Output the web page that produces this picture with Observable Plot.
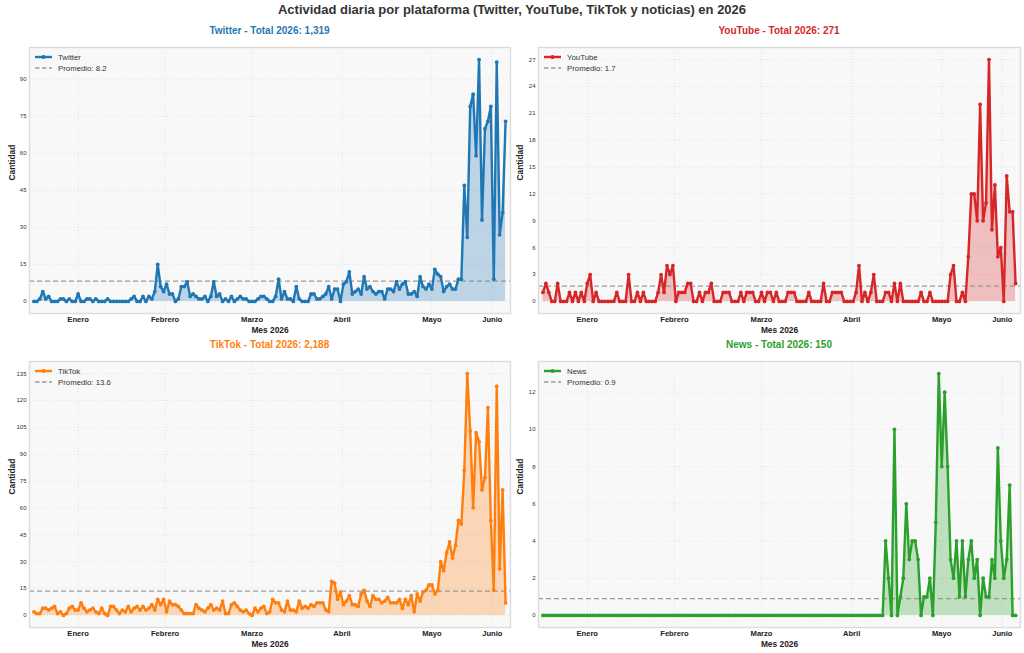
<!DOCTYPE html>
<html>
<head>
<meta charset="utf-8">
<script src="https://cdn.jsdelivr.net/npm/d3@7"></script>
<script src="https://cdn.jsdelivr.net/npm/@observablehq/plot@0.6"></script>
<style>
  html, body { margin: 0; padding: 0; background: #fff; }
  #fig { position: relative; width: 1024px; height: 653px; overflow: hidden; background: #fff;
         font-family: "Liberation Sans", Arial, sans-serif; color: #333; }
  .abs { position: absolute; }
  .maintitle { left: 0; top: 2px; width: 1024px; text-align: center; font-size: 13px; line-height: 16px; font-weight: bold; color: #333; }
  .subtitle { text-align: center; font-size: 10px; line-height: 12px; font-weight: bold; }
</style>
</head>
<body>
<div id="fig">
  <div class="abs maintitle">Actividad diaria por plataforma (Twitter, YouTube, TikTok y noticias) en 2026</div>
</div>
<script>
// ---------------- DATA ----------------
const startDate = "2026-01-01";
const endDate = "2026-06-10";
const monthLabels = ["Enero", "Febrero", "Marzo", "Abril", "Mayo", "Junio"];

const twitter = [
  // Enero
  0,0,1,4,1,2,0,0,0,1,1,0,1,0,0,3,0,0,1,1,0,1,0,0,0,1,0,0,0,0,0,
  // Febrero
  0,0,1,2,0,0,2,0,2,1,4,15,6,4,7,3,3,0,1,6,6,8,2,3,2,1,1,2,
  // Marzo
  0,2,8,2,3,0,1,0,2,0,1,2,1,1,0,0,0,1,2,2,1,0,0,2,9,1,4,1,1,0,6,
  // Abril
  1,0,0,0,3,3,1,1,2,3,6,1,5,5,0,7,8,12,3,4,5,3,10,5,6,4,3,4,4,1,
  // Mayo
  5,5,4,8,5,7,8,3,3,4,2,10,6,5,7,5,13,11,10,4,6,7,5,5,9,9,47,26,79,84,59,
  // Junio
  98,33,70,73,79,9,97,27,36,73
];
const youtube = [
  1,2,1,0,0,2,0,0,0,1,0,1,0,1,0,2,3,0,1,0,0,0,0,0,0,1,0,0,0,3,0,
  0,1,0,1,0,0,0,0,1,3,1,4,3,4,0,1,1,1,2,2,0,0,1,0,1,1,2,0,
  0,0,1,1,1,0,0,0,1,0,1,1,1,0,0,1,0,1,1,0,1,0,0,0,1,1,1,0,0,0,0,
  1,0,0,0,0,2,0,0,1,1,1,1,0,0,0,0,1,4,0,1,0,1,3,0,0,0,1,1,0,2,
  0,2,0,0,0,0,0,0,1,0,0,1,0,0,0,0,0,0,3,4,0,0,1,0,5,12,12,9,22,9,11,
  27,8,13,5,6,0,14,10,10,2
];
const tiktok = [
  2,1,1,4,4,3,4,5,1,2,0,1,4,5,3,3,7,4,2,3,4,2,1,4,1,0,5,5,3,1,3,
  2,5,2,4,5,3,5,3,4,6,3,9,6,9,2,8,6,6,5,3,1,1,1,1,6,4,3,2,
  4,6,3,4,3,8,1,1,6,7,5,3,2,3,1,0,4,2,4,5,1,2,9,7,7,3,2,8,3,3,2,
  8,4,5,4,6,5,7,7,7,3,2,19,18,9,13,6,8,11,6,6,5,12,14,8,5,11,9,9,7,8,
  10,7,7,7,9,4,9,6,11,2,12,8,13,14,17,17,12,14,30,25,35,41,32,39,53,51,81,135,103,60,102,
  97,70,77,116,53,14,128,26,70,7
];
const news = [
  0,0,0,0,0,0,0,0,0,0,0,0,0,0,0,0,0,0,0,0,0,0,0,0,0,0,0,0,0,0,0,
  0,0,0,0,0,0,0,0,0,0,0,0,0,0,0,0,0,0,0,0,0,0,0,0,0,0,0,0,
  0,0,0,0,0,0,0,0,0,0,0,0,0,0,0,0,0,0,0,0,0,0,0,0,0,0,0,0,0,0,0,
  0,0,0,0,0,0,0,0,0,0,0,0,0,0,0,0,0,0,0,0,0,0,0,0,0,0,4,2,0,10,
  0,1,2,6,3,4,4,3,0,1,1,2,0,5,13,8,12,8,3,2,4,1,4,1,3,4,2,3,0,2,1,
  1,3,2,9,4,2,3,7,0,0
];

const panelNames = ["Twitter", "YouTube", "TikTok", "News"];
const panelTotals = ["1,319", "271", "2,188", "150"];
const panelAverages = [8.2, 1.7, 13.6, 0.9];
const panelColors = ["#1f77b4", "#d62728", "#ff7f0e", "#2ca02c"];
const panelYMax = [98, 27, 135, 13];
const yTicksTwitter = [0, 15, 30, 45, 60, 75, 90];
const yTicksYoutube = [0, 3, 6, 9, 12, 15, 18, 21, 24, 27];
const yTicksTiktok = [0, 15, 30, 45, 60, 75, 90, 105, 120, 135];
const yTicksNews = [0, 2, 4, 6, 8, 10, 12];

// ---------------- BUILD ----------------
const dates = d3.utcDay.range(new Date(startDate + "T00:00Z"), d3.utcDay.offset(new Date(endDate + "T00:00Z"), 1));
const monthTicks = d3.groups(dates, d => d.getUTCMonth())
  .map(([m, ds]) => new Date(d3.mean(ds, d => +d)));
const xDomain = [d3.utcHour.offset(dates[0], -36), d3.utcHour.offset(dates[dates.length - 1], 40)];

const seriesList = [twitter, youtube, tiktok, news];
const tickList = [yTicksTwitter, yTicksYoutube, yTicksTiktok, yTicksNews];

// layout of the four panels (svg boxes)
const boxes = [
  {left: 0,   top: 40,  ml: 29, mr: 2, titleTop: 25,  ylabDx: -17},
  {left: 512, top: 40,  ml: 26, mr: 4, titleTop: 25,  ylabDx: -18},
  {left: 0,   top: 354, ml: 29, mr: 2, titleTop: 339, ylabDx: -17},
  {left: 512, top: 354, ml: 26, mr: 4, titleTop: 339, ylabDx: -18}
];

function legendMark(name, color, avg) {
  return (index, scales, values, dims) => {
    const g = d3.create("svg:g")
      .attr("font-family", "Liberation Sans, Arial, sans-serif")
      .attr("font-size", 7.8)
      .attr("text-anchor", "start")
      .attr("fill", "#333");
    const x0 = dims.marginLeft, y0 = dims.marginTop;
    const rows = [10, 21];
    g.append("line").attr("x1", x0 + 6).attr("x2", x0 + 23).attr("y1", y0 + rows[0]).attr("y2", y0 + rows[0])
      .attr("stroke", color).attr("stroke-width", 2.4);
    g.append("circle").attr("cx", x0 + 14.5).attr("cy", y0 + rows[0]).attr("r", 2).attr("fill", color);
    g.append("text").attr("x", x0 + 29).attr("y", y0 + rows[0]).attr("dy", "0.35em")
      .attr("text-anchor", "start").text(name);
    g.append("line").attr("x1", x0 + 6).attr("x2", x0 + 23).attr("y1", y0 + rows[1]).attr("y2", y0 + rows[1])
      .attr("stroke", "#999").attr("stroke-width", 1.3).attr("stroke-dasharray", "4.5,2.5");
    g.append("text").attr("x", x0 + 29).attr("y", y0 + rows[1]).attr("dy", "0.35em")
      .attr("text-anchor", "start").text("Promedio: " + avg.toFixed(1));
    return g.node();
  };
}

const fig = document.getElementById("fig");

panelNames.forEach((name, k) => {
  const b = boxes[k];
  const color = panelColors[k];
  const data = dates.map((d, i) => ({date: d, value: seriesList[k][i]}));
  const yMax = panelYMax[k];
  const pad = yMax * 0.05;
  const ticks = tickList[k];

  const plot = Plot.plot({
    width: 512,
    height: 300 - (k >= 2 ? 1 : 0),
    marginLeft: b.ml,
    marginRight: b.mr,
    marginTop: 7,
    marginBottom: k >= 2 ? 26 : 27,
    style: {fontFamily: "Liberation Sans, Arial, sans-serif", background: "transparent", overflow: "visible"},
    x: {type: "utc", domain: xDomain},
    y: {domain: [-pad, yMax + pad]},
    marks: [
      Plot.frame({fill: "#f8f8f8", stroke: null}),
      Plot.gridX(monthTicks, {stroke: "#dedede", strokeOpacity: 1, strokeWidth: 0.8, strokeDasharray: "1,2"}),
      Plot.gridY(ticks, {stroke: "#dedede", strokeOpacity: 1, strokeWidth: 0.8, strokeDasharray: "1,2"}),
      Plot.areaY(data, {x: "date", y: "value", fill: color, fillOpacity: 0.28}),
      Plot.ruleY([panelAverages[k]], {stroke: "#8c8c8c", strokeWidth: 1.3, strokeOpacity: 0.85, strokeDasharray: "5,3"}),
      Plot.lineY(data, {x: "date", y: "value", stroke: color, strokeWidth: 2.4}),
      Plot.dot(data, {x: "date", y: "value", r: 1.9, fill: color, stroke: null}),
      Plot.frame({stroke: "#dcdcdc", strokeWidth: 1.4}),
      Plot.axisX({ticks: monthTicks, tickFormat: d => monthLabels[d.getUTCMonth()], tickSize: 0, tickPadding: 3,
                  fontSize: 7.6, fontWeight: "bold", fill: "#222", label: null}),
      Plot.axisY({ticks: ticks, tickSize: 0, tickPadding: 3, fontSize: 6, fill: "#333", label: null}),
      Plot.text(["Mes 2026"], {frameAnchor: "bottom", dy: 17, lineAnchor: "middle", fontSize: 8.4, fontWeight: "bold", fill: "#222"}),
      Plot.text(["Cantidad"], {frameAnchor: "left", dx: b.ylabDx, rotate: -90, lineAnchor: "middle", fontSize: 8.4, fontWeight: "bold", fill: "#222"}),
      legendMark(name, color, panelAverages[k])
    ]
  });
  plot.style.position = "absolute";
  plot.style.left = b.left + "px";
  plot.style.top = b.top + "px";
  fig.appendChild(plot);

  const t = document.createElement("div");
  t.className = "abs subtitle";
  t.style.left = (b.left + b.ml) + "px";
  t.style.width = (512 - b.ml - b.mr) + "px";
  t.style.top = b.titleTop + "px";
  t.style.color = color;
  t.textContent = name + " - Total 2026: " + panelTotals[k];
  fig.appendChild(t);
});
</script>
</body>
</html>
